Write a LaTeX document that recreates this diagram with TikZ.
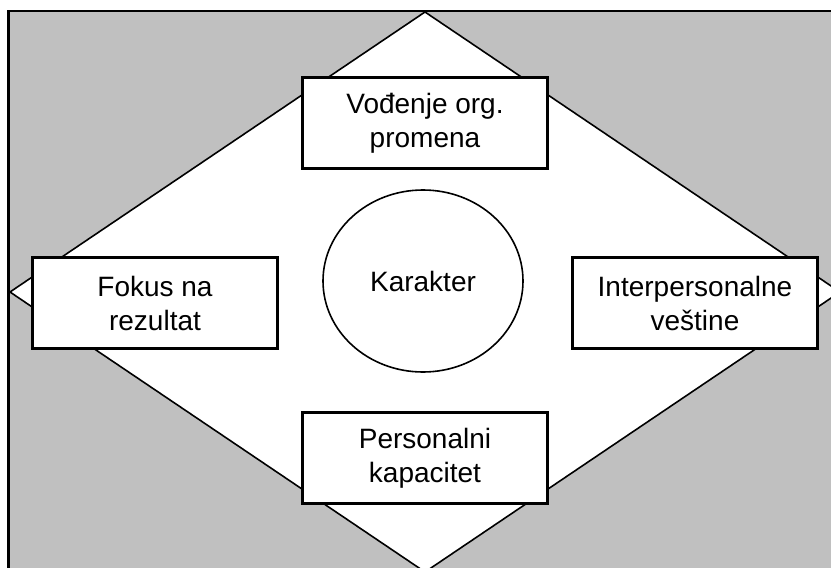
\documentclass[tikz,border=0pt]{standalone}
\usepackage{fontspec}
\setmainfont{Liberation Sans}
\usetikzlibrary{shapes.geometric}
\definecolor{bggray}{RGB}{192,192,192}
\begin{document}
\begin{tikzpicture}[x=1pt,y=-1pt,
	box/.style={draw,fill=white,line width=2.4pt,minimum width=245pt,minimum height=91pt,inner sep=0pt,align=center,font=\fontsize{28}{34}\selectfont},
	kruh/.style={draw,ellipse,line width=1.6pt,minimum width=200pt,minimum height=182pt,inner sep=0pt,font=\fontsize{28}{34}\selectfont}]
	\useasboundingbox (0,0) rectangle (831,568);
	\begin{scope}
	\clip (0,0) rectangle (831,568);
	\draw[fill=bggray,line width=2.4pt] (8.5,11) rectangle (860,600);
	\coordinate (dtop) at (425,12);
	\coordinate (dleft) at (10,292);
	\coordinate (dright) at (840,292);
	\coordinate (dbottom) at (425,572);
	\draw[fill=white,line width=1.6pt] (dtop) -- (dright) -- (dbottom) -- (dleft) -- cycle;
	\end{scope}
	\node[kruh] (kar) at (423,281) {Karakter};
	\node[box] (vodjenje) at (425,123) {Vođenje org.\\promena};
	\node[box] (fokus) at (155,303) {Fokus na\\rezultat};
	\node[box] (inter) at (695,303) {Interpersonalne\\veštine};
	\node[box] (pers) at (425,458) {Personalni\\kapacitet};
\end{tikzpicture}
\end{document}
